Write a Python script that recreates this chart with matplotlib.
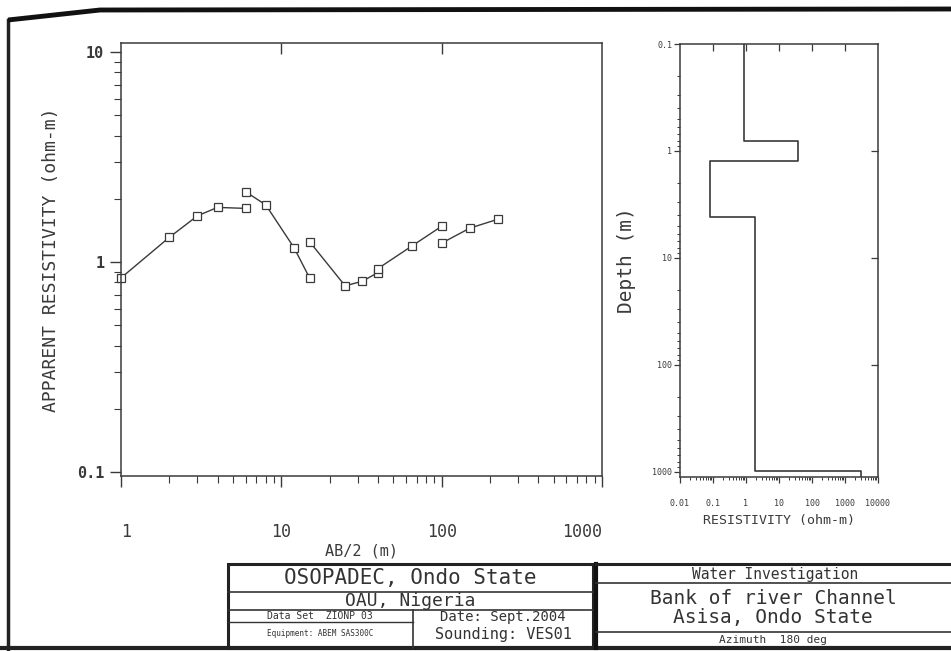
import matplotlib
matplotlib.use("Agg")
import matplotlib.pyplot as plt
from matplotlib.ticker import LogLocator, NullFormatter, FixedLocator, FixedFormatter, NullLocator
from matplotlib.patches import Rectangle

# ---------------- data ----------------
# apparent resistivity sounding curve, drawn as separate segments
seg_ab2 = [
    [1, 2, 3, 4, 6],
    [6, 8, 12, 15],
    [15, 25, 32, 40],
    [40, 65, 100],
    [100, 150, 225],
]
seg_rho = [
    [0.84, 1.31, 1.66, 1.82, 1.80],
    [2.16, 1.87, 1.17, 0.84],
    [1.25, 0.77, 0.81, 0.89],
    [0.93, 1.19, 1.48],
    [1.23, 1.45, 1.60],
]
# layered model
layer_rho = [0.89, 37, 0.081, 1.9, 3000]
layer_top = [0.1, 0.80, 1.23, 4.1, 970]
model_bottom = 1114

left_yticks = [0.1, 1, 10]
left_yticklabels = ["0.1", "1", "10"]
left_xticks = [1, 10, 100, 1000]
left_xticklabels = ["1", "10", "100", "1000"]
right_yticks = [0.1, 1, 10, 100, 1000]
right_yticklabels = ["0.1", "1", "10", "100", "1000"]
right_xticks = [0.01, 0.1, 1, 10, 100, 1000, 10000]
right_xticklabels = ["0.01", "0.1", "1", "10", "100", "1000", "10000"]

INK = "#3a3a3a"
MONO = "DejaVu Sans Mono"
plt.rcParams["font.family"] = [MONO]

W, H = 951, 651
fig = plt.figure(figsize=(W / 100, H / 100), dpi=100)
fig.patch.set_facecolor("white")


def px_axes(x0, x1, y0, y1):
    return fig.add_axes([x0 / W, 1 - y1 / H, (x1 - x0) / W, (y1 - y0) / H])


# ---------------- left: sounding curve ----------------
ax = px_axes(121, 602, 43, 476)
ax.set_xscale("log")
ax.set_yscale("log")
ax.set_xlim(1, 1000)
ax.set_ylim(0.0957, 11.04)
for xs, ys in zip(seg_ab2, seg_rho):
    ax.plot(xs, ys, color=INK, lw=1.0, marker="s", ms=5.5, mfc="white",
            mec=INK, mew=0.9, clip_on=False)
ax.yaxis.set_major_locator(FixedLocator(left_yticks))
ax.yaxis.set_major_formatter(FixedFormatter(left_yticklabels))
ax.xaxis.set_major_locator(FixedLocator(left_xticks))
ax.xaxis.set_major_formatter(FixedFormatter(left_xticklabels))
ax.yaxis.set_minor_locator(LogLocator(subs=range(2, 10)))
ax.xaxis.set_minor_locator(LogLocator(subs=range(2, 10)))
ax.yaxis.set_minor_formatter(NullFormatter())
ax.xaxis.set_minor_formatter(NullFormatter())
ax.tick_params(axis="y", which="major", direction="out", length=8, width=1,
               color=INK, labelsize=11, labelcolor=INK, pad=4)
ax.tick_params(axis="y", which="minor", direction="out", length=5, width=0.8, color=INK)
ax.tick_params(axis="x", which="major", direction="out", length=8, width=1,
               color=INK, labelsize=12, labelcolor=INK, pad=26)
ax.tick_params(axis="x", which="minor", direction="out", length=5, width=0.8, color=INK)
for lab in ax.get_yticklabels():
    lab.set_fontweight("bold")
xl = ax.get_xticklabels()
xl[-1].set_horizontalalignment("right")
xl[0].set_horizontalalignment("left")
for s in ax.spines.values():
    s.set_color(INK)
    s.set_linewidth(1.1)
ax.set_xlabel("AB/2 (m)", fontsize=11, color=INK, labelpad=2)
ax.set_ylabel("APPARENT RESISTIVITY (ohm-m)", fontsize=13, color=INK, labelpad=12)
top = ax.twiny()
top.set_xscale("log")
top.set_xlim(ax.get_xlim())
top.xaxis.set_major_locator(FixedLocator([10, 100]))
top.xaxis.set_minor_locator(NullLocator())
top.tick_params(axis="x", direction="in", length=8, width=1, color=INK, labeltop=False)
for s in top.spines.values():
    s.set_visible(False)

# ---------------- right: layered model ----------------
ax2 = px_axes(680, 878, 44, 477)
ax2.set_xscale("log")
ax2.set_yscale("log")
ax2.set_xlim(0.01, 10000)
ax2.set_ylim(model_bottom, 0.1)
mx, my = [], []
bottoms = layer_top[1:] + [model_bottom]
for r, t, b in zip(layer_rho, layer_top, bottoms):
    mx += [r, r]
    my += [t, b]
ax2.plot(mx, my, color=INK, lw=1.2)
ax2.yaxis.set_major_locator(FixedLocator(right_yticks))
ax2.yaxis.set_major_formatter(FixedFormatter(right_yticklabels))
ax2.xaxis.set_major_locator(FixedLocator(right_xticks))
ax2.xaxis.set_major_formatter(FixedFormatter(right_xticklabels))
ax2.yaxis.set_minor_locator(LogLocator(subs=range(2, 10)))
ax2.xaxis.set_minor_locator(LogLocator(subs=range(2, 10)))
ax2.yaxis.set_minor_formatter(NullFormatter())
ax2.xaxis.set_minor_formatter(NullFormatter())
ax2.tick_params(axis="both", which="major", direction="out", length=4, width=0.9,
                color=INK, labelsize=6, labelcolor=INK, pad=1.5)
ax2.tick_params(axis="both", which="minor", direction="out", length=2.5, width=0.7, color=INK)
ax2.tick_params(axis="x", which="major", pad=12)
for s in ax2.spines.values():
    s.set_color(INK)
    s.set_linewidth(1.1)
ax2.set_xlabel("RESISTIVITY (ohm-m)", fontsize=9.5, color=INK, labelpad=4)
ax2.set_ylabel("Depth (m)", fontsize=14, color=INK, labelpad=12)
top2 = ax2.twiny()
top2.set_xscale("log")
top2.set_xlim(ax2.get_xlim())
top2.xaxis.set_major_locator(FixedLocator(right_xticks[1:-1]))
top2.xaxis.set_minor_locator(NullLocator())
top2.tick_params(axis="x", direction="in", length=5, width=0.9, color=INK, labeltop=False)
for s in top2.spines.values():
    s.set_visible(False)
right2 = ax2.twinx()
right2.set_yscale("log")
right2.set_ylim(ax2.get_ylim())
right2.yaxis.set_major_locator(FixedLocator([1, 10, 100]))
right2.yaxis.set_minor_locator(NullLocator())
right2.tick_params(axis="y", direction="in", length=5, width=0.9, color=INK, labelright=False)
for s in right2.spines.values():
    s.set_visible(False)

# ---------------- page frame & title block ----------------
ov = fig.add_axes([0, 0, 1, 1], zorder=-1)
ov.set_xlim(0, W)
ov.set_ylim(H, 0)
ov.axis("off")
ov.plot([8, 8], [20, 649], color="#222", lw=2.5)
ov.plot([8, 100, W], [20, 10, 9], color="#111", lw=3.5, solid_capstyle="butt")
ov.plot([0, W], [648, 648], color="#222", lw=3)

k = "#333"
# left block
ov.add_patch(Rectangle((228, 564), 365, 84, fill=False, ec="#222", lw=2.2))
ov.plot([228, 593], [592, 592], color=k, lw=1.2)
ov.plot([228, 593], [610, 610], color=k, lw=1.2)
ov.plot([228, 413], [622, 622], color=k, lw=1.0)
ov.plot([413, 413], [610, 648], color=k, lw=1.2)
ov.text(410, 578, "OSOPADEC, Ondo State", ha="center", va="center", fontsize=15, color=k)
ov.text(410, 601.5, "OAU, Nigeria", ha="center", va="center", fontsize=13, color=k)
ov.text(320, 616, "Data Set  ZIONP 03", ha="center", va="center", fontsize=7, color=k)
ov.text(320, 634, "Equipment: ABEM SAS300C", ha="center", va="center", fontsize=5.5, color=k)
ov.text(503, 616.5, "Date: Sept.2004", ha="center", va="center", fontsize=10, color=k)
ov.text(503, 634, "Sounding: VES01", ha="center", va="center", fontsize=11, color=k)
# right block
ov.plot([596, 596], [564, 648], color="#111", lw=3)
ov.plot([596, W], [564, 564], color="#222", lw=2.2)
ov.plot([596, W], [583, 583], color=k, lw=1.2)
ov.plot([596, W], [632, 632], color=k, lw=1.2)
ov.text(775, 574, "Water Investigation", ha="center", va="center", fontsize=10.5, color=k)
ov.text(773, 598, "Bank of river Channel", ha="center", va="center", fontsize=14, color=k)
ov.text(773, 618, "Asisa, Ondo State", ha="center", va="center", fontsize=14, color=k)
ov.text(773, 640, "Azimuth  180 deg", ha="center", va="center", fontsize=8, color=k)

fig.savefig("out.png", dpi=100, facecolor="white")
